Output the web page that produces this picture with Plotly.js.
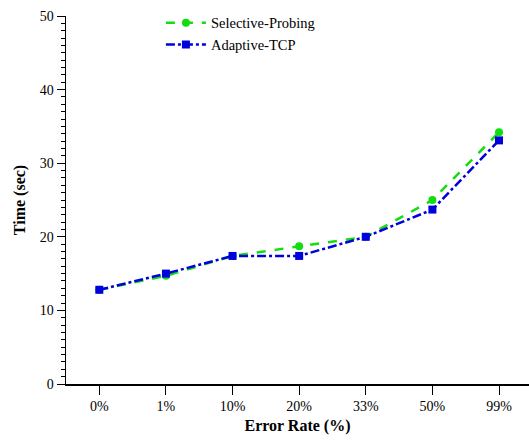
<!DOCTYPE html>
<html><head><script src="https://cdn.plot.ly/plotly-3.0.1.min.js"></script>
<style>body{margin:0;padding:0;}#c{width:529px;height:440px;}</style></head>
<body><div id="c"></div>
<script>
const categories = ['0%','1%','10%','20%','33%','50%','99%'];
const selectiveProbing = [12.8, 14.7, 17.4, 18.7, 20.0, 25.0, 34.2];
const adaptiveTCP = [12.8, 15.0, 17.4, 17.4, 20.0, 23.7, 33.1];
const font = "'Liberation Serif', 'Times New Roman', serif";
const traces = [
  {x: categories, y: selectiveProbing, name: 'Selective-Probing', type: 'scatter', mode: 'lines+markers',
   line: {color: '#11dd11', width: 2.5, dash: 'dash'}, marker: {symbol: 'circle', size: 8, color: '#11dd11'}},
  {x: categories, y: adaptiveTCP, name: 'Adaptive-TCP', type: 'scatter', mode: 'lines+markers',
   line: {color: '#0000dd', width: 2.5, dash: 'dashdot'}, marker: {symbol: 'square', size: 8, color: '#0000dd'}}
];
const layout = {
  width: 529, height: 440,
  margin: {l: 66, r: 0, t: 16, b: 56},
  paper_bgcolor: 'white', plot_bgcolor: 'white',
  font: {family: font, size: 14, color: '#000'},
  showlegend: true,
  legend: {x: 0.205, y: 1.025, xanchor: 'left', yanchor: 'top', bgcolor: 'rgba(0,0,0,0)', font: {family: font, size: 14.5}, tracegroupgap: 0, itemwidth: 40},
  xaxis: {type: 'category', range: [-0.5, 6.45], showgrid: false, zeroline: false, showline: true, linecolor: '#000', linewidth: 1.5,
    ticks: 'outside', ticklen: 9, tickcolor: '#000', tickwidth: 1, tickfont: {family: font, size: 14},
    title: {text: '<b>Error Rate (%)</b>', font: {family: font, size: 16}, standoff: 6}},
  yaxis: {range: [0, 50], dtick: 10, showgrid: false, zeroline: false, showline: true, linecolor: '#000', linewidth: 1.5,
    ticks: 'outside', ticklen: 8, tickcolor: '#000', tickwidth: 1, tickfont: {family: font, size: 14},
    minor: {dtick: 1, ticks: 'outside', ticklen: 4, tickcolor: '#000', tickwidth: 1, showgrid: false},
    title: {text: '<b>Time (sec)</b>', font: {family: font, size: 16}, standoff: 10}}
};
Plotly.newPlot('c', traces, layout, {displayModeBar: false, staticPlot: true});
</script></body></html>
